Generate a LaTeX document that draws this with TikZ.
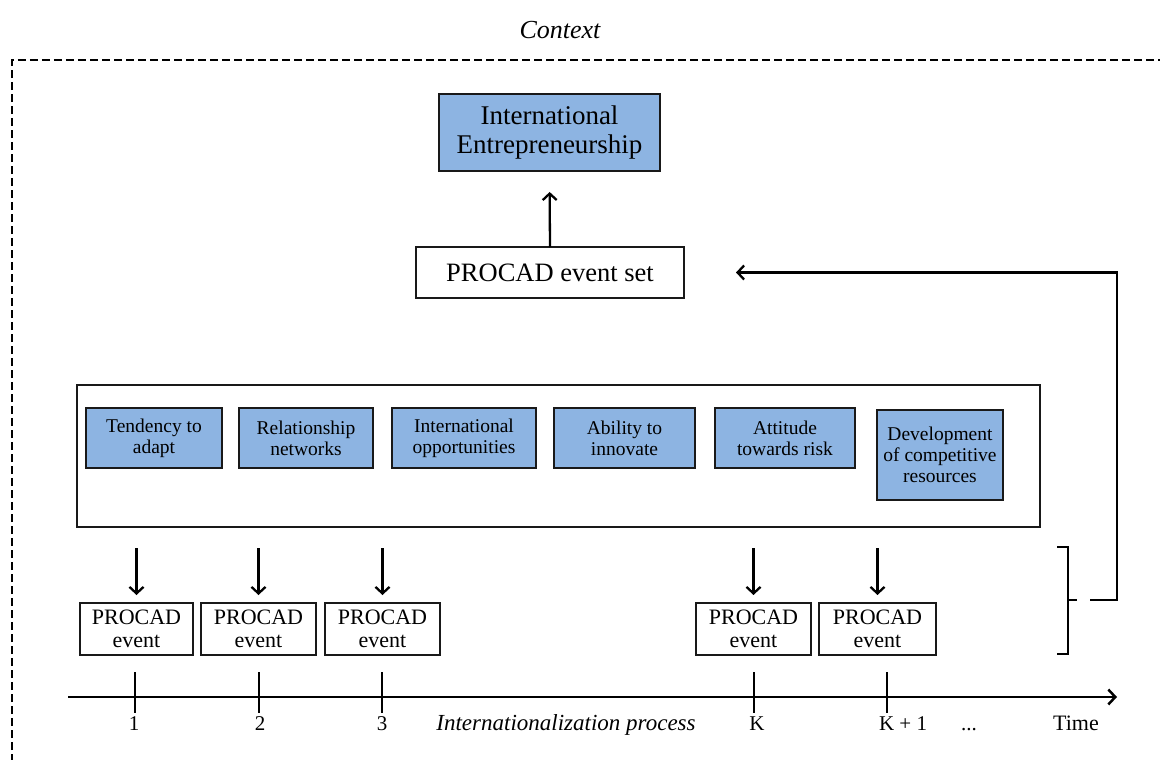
\documentclass[tikz,border=0pt]{standalone}
\usepackage{fontspec}
\setmainfont{Liberation Serif}
\usetikzlibrary{arrows.meta}
\definecolor{boxblue}{RGB}{141,180,226}
\begin{document}
\begin{tikzpicture}[x=1pt,y=-1pt,
  every node/.style={inner sep=0pt, outer sep=0pt, align=center},
  bluebox/.style={draw=black!90, line width=1.8pt, fill=boxblue, font=\fontsize{19.5}{21}\selectfont, minimum height=60pt},
  eventbox/.style={draw=black!90, line width=1.3pt, minimum width=115pt, minimum height=52pt, font=\fontsize{22}{23}\selectfont},
  arr/.style={line width=2.3pt, -{Straight Barb[length=6.5pt,width=14pt,line width=2.3pt]}},
  thick2/.style={line width=2.3pt},
  lab/.style={font=\fontsize{21}{23}\selectfont, anchor=base}
]
\useasboundingbox (0,0) rectangle (1160,760);
% context frame
\node[font=\fontsize{26}{28}\selectfont\itshape] (ctx) at (560,30) {Context};
\draw[line width=2.5pt, dash pattern=on 8pt off 4pt] (12,762) -- (12,60) -- (1162,60);
% top boxes
\node[draw=black!90, line width=2.6pt, fill=boxblue, minimum width=221pt, minimum height=77pt, font=\fontsize{27}{29}\selectfont] (ie) at (549.5,132.5) {International\\Entrepreneurship};
\node[draw=black!90, line width=2.2pt, minimum width=268pt, minimum height=51pt, font=\fontsize{26.5}{28}\selectfont] (set) at (550,272.5) {PROCAD event set};
\draw[arr, shorten >=21pt] (set.north) -- (ie.south);
% big box
\node[draw=black!90, line width=1.8pt, minimum width=963pt, minimum height=142pt] (big) at (558.5,456) {};
\node[bluebox, minimum width=136pt] (f1) at (154,438) {Tendency to\\adapt};
\node[bluebox, minimum width=134pt] (f2) at (306,438) {Relationship\\networks};
\node[bluebox, minimum width=144pt] (f3) at (464,438) {International\\opportunities};
\node[bluebox, minimum width=141pt] (f4) at (624.5,438) {Ability to\\innovate};
\node[bluebox, minimum width=140pt] (f5) at (785,438) {Attitude\\towards risk};
\node[bluebox, minimum width=126pt, minimum height=90pt] (f6) at (940,455) {Development\\of competitive\\resources};
% events
\node[eventbox, minimum width=113pt] (e1) at (136.5,629) {PROCAD\\event};
\node[eventbox] (e2) at (258.5,629) {PROCAD\\event};
\node[eventbox] (e3) at (382.5,629) {PROCAD\\event};
\node[eventbox] (eK) at (753.5,629) {PROCAD\\event};
\node[eventbox, minimum width=117pt] (eK1) at (877.5,629) {PROCAD\\event};
\foreach \e in {e1,e2,e3,eK,eK1}{
  \draw[arr, shorten <=21pt, shorten >=8pt] (\e.north |- big.south) -- (\e.north);
}
% brace and feedback
\coordinate (bt) at (1057,547);
\coordinate (bb) at (1057,654);
\coordinate (fb) at (1090,600);
\draw[line width=1.8pt] (bt) -- (1068,547) -- (1068,654) -- (bb);
\draw[line width=1.8pt] (1068,600) -- (1077,600);
\draw[arr, shorten >=52pt] (fb) -- (1117,600) |- (set.east);
% time axis
\coordinate (ax0) at (68,697);
\coordinate (ax1) at (1117,697);
\draw[line width=2.5pt, -{Straight Barb[length=7pt,width=15pt,line width=2.5pt]}] (ax0) -- (ax1);
\foreach \x in {135,259,382,754,887}{
  \draw[thick2] (\x,672) -- (\x,713);
}
\node[lab] (l1) at (134,730) {1};
\node[lab] (l2) at (260,730) {2};
\node[lab] (l3) at (382,730) {3};
\node[lab, font=\fontsize{23}{25}\selectfont\itshape] (lp) at (566,730) {Internationalization process};
\node[lab] (lK) at (757,730) {K};
\node[lab] (lK1) at (903,730) {K + 1};
\node[lab] (ld) at (969,730) {...};
\node[lab, font=\fontsize{22}{24}\selectfont] (lt) at (1076,730) {Time};
\end{tikzpicture}
\end{document}
